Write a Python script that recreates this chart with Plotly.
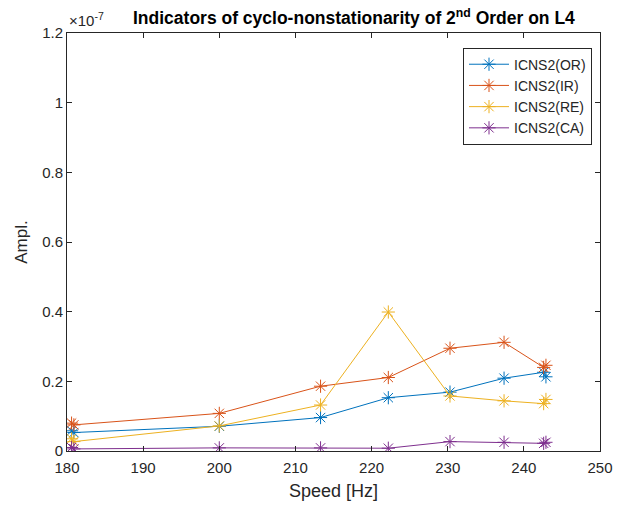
import plotly.graph_objects as go

speed = [180.6, 180.9, 200.0, 213.3, 222.2, 230.3, 237.4, 242.6, 242.9]
# amplitudes in units of 1e-7
icns_or = [0.058, 0.053, 0.071, 0.096, 0.153, 0.169, 0.209, 0.226, 0.213]
icns_ir = [0.080, 0.075, 0.108, 0.186, 0.211, 0.295, 0.312, 0.240, 0.246]
icns_re = [0.035, 0.027, 0.072, 0.132, 0.399, 0.158, 0.144, 0.136, 0.148]
icns_ca = [0.010, 0.006, 0.009, 0.009, 0.008, 0.027, 0.025, 0.022, 0.025]

names = ["ICNS2(OR)", "ICNS2(IR)", "ICNS2(RE)", "ICNS2(CA)"]
colors = ["#0072BD", "#D95319", "#EDB120", "#7E2F8E"]
series = [icns_or, icns_ir, icns_re, icns_ca]

x_ticks = [180, 190, 200, 210, 220, 230, 240, 250]
y_ticks = [0, 0.2, 0.4, 0.6, 0.8, 1.0, 1.2]
y_ticktext = ["0", "0.2", "0.4", "0.6", "0.8", "1", "1.2"]

FONT = "Liberation Sans, Arial, Helvetica"

fig = go.Figure()
for n, c, s in zip(names, colors, series):
    fig.add_trace(go.Scatter(
        x=speed, y=s, name=n, mode="lines+markers",
        line=dict(color=c, width=1),
        marker=dict(symbol="asterisk-open", size=11, color=c, line=dict(color=c, width=1)),
    ))

axis_common = dict(
    showline=True, linecolor="#262626", linewidth=1, mirror="allticks",
    ticks="inside", ticklen=5, tickcolor="#262626", showgrid=False, zeroline=False,
    tickfont=dict(family=FONT, size=15, color="#262626"), automargin=False,
)

fig.update_layout(
    width=628, height=506,
    margin=dict(l=67, r=28, t=33, b=55),
    plot_bgcolor="white", paper_bgcolor="white",
    showlegend=True,
    legend=dict(
        x=0.985, y=0.965, xanchor="right", yanchor="top",
        bordercolor="#262626", borderwidth=1, bgcolor="white",
        font=dict(family=FONT, size=14, color="#262626"),
        itemwidth=40, tracegroupgap=0,
    ),
    xaxis=dict(range=[180, 250], tickvals=x_ticks, ticklabelstandoff=3,
               title=dict(text="Speed [Hz]", font=dict(family=FONT, size=18, color="#262626"), standoff=9),
               **axis_common),
    yaxis=dict(range=[0, 1.2], tickvals=y_ticks, ticktext=y_ticktext,
               title=dict(text="Ampl.", font=dict(family=FONT, size=17, color="#262626"), standoff=10),
               **axis_common),
    annotations=[
        dict(text="<b>Indicators of cyclo-nonstationarity of 2<sup>nd</sup> Order on L4</b>",
             xref="paper", yref="paper", x=0.538, y=1.0, xanchor="center", yanchor="bottom",
             yshift=3, showarrow=False,
             font=dict(family=FONT, size=17.5, color="black")),
        dict(text="×10<sup>-7</sup>", xref="paper", yref="paper", x=0.0, y=1.0,
             xanchor="left", yanchor="bottom", yshift=2, showarrow=False,
             font=dict(family=FONT, size=15, color="#262626")),
    ],
)

fig.write_html("out.html")
